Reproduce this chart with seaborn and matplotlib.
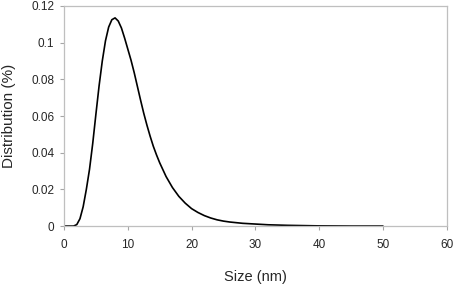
import pandas as pd
import seaborn as sns
import matplotlib.pyplot as plt

# Values
size_nm = [0, 1, 1.5, 2, 2.5, 3, 3.5, 4, 4.5, 5, 5.5, 6, 6.5, 7, 7.5, 8, 8.5,
           9, 9.5, 10, 10.5, 11, 11.5, 12, 12.5, 13, 13.5, 14, 14.5, 15, 16,
           17, 18, 19, 20, 21, 22, 23, 24, 25, 26, 28, 30, 32, 35, 40, 45, 50]
distribution = [0, 0, 0, 0.0008, 0.004, 0.0105, 0.020, 0.031, 0.045, 0.061,
                0.0765, 0.090, 0.101, 0.1085, 0.1125, 0.1135, 0.1118, 0.108,
                0.1025, 0.0965, 0.0905, 0.0837, 0.0762, 0.0687, 0.0615, 0.055,
                0.049, 0.0435, 0.0388, 0.0345, 0.027, 0.021, 0.0162, 0.0125,
                0.0095, 0.0074, 0.0057, 0.0044, 0.0034, 0.0027, 0.0022, 0.0015,
                0.0011, 0.0007, 0.0004, 0.0001, 0.0, 0.0]

x_ticks = [0, 10, 20, 30, 40, 50, 60]
y_ticks = [0, 0.02, 0.04, 0.06, 0.08, 0.1, 0.12]
y_tick_labels = ['0', '0.02', '0.04', '0.06', '0.08', '0.1', '0.12']

data = pd.DataFrame({'Size': size_nm, 'Distribution': distribution})

sns.set_style('white')
plt.rcParams['font.family'] = ['Liberation Sans', 'DejaVu Sans']

fig = plt.figure(figsize=(4.54, 2.84), dpi=100)
ax = fig.add_axes([0.141, 0.204, 0.843, 0.775])

sns.lineplot(x='Size', y='Distribution', data=data, ax=ax,
             color='black', linewidth=1.2)

ax.set_xlim(0, 60)
ax.set_ylim(0, 0.12)
ax.set_xticks(x_ticks)
ax.set_yticks(y_ticks)
ax.set_yticklabels(y_tick_labels)
ax.tick_params(axis='both', labelsize=8.5, length=3, width=0.8,
               color='#a6a6a6', direction='out', bottom=True, left=True)
ax.tick_params(axis='x', pad=6)
ax.tick_params(axis='y', pad=4)
for side in ['left', 'right', 'top', 'bottom']:
    ax.spines[side].set_color('#bfbfbf')
    ax.spines[side].set_linewidth(0.9)

ax.set_xlabel('Size (nm)', fontsize=10.5, labelpad=14)
ax.set_ylabel('Distribution (%)', fontsize=11, labelpad=11)

plt.savefig('out.png', dpi=100)
